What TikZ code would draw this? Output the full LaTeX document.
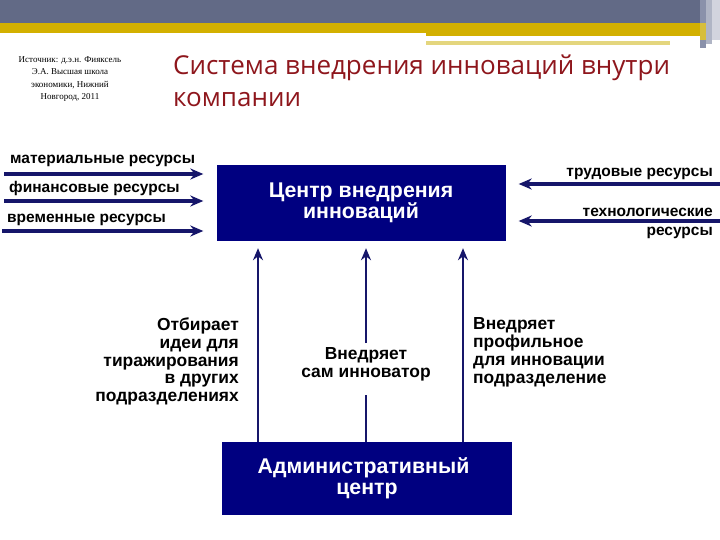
\documentclass[tikz,border=0pt]{standalone}
\usepackage{fontspec}
\setmainfont{Liberation Sans}
\newfontfamily\titlefont{Open Sans}
\newfontfamily\srcfont{Liberation Serif}
\usetikzlibrary{arrows.meta}
\definecolor{bannergray}{HTML}{626A86}
\definecolor{banneryellow}{HTML}{D3B000}
\definecolor{paleyellow}{HTML}{E4D67E}
\definecolor{navybox}{HTML}{000080}
\definecolor{arrowblue}{HTML}{16166A}
\definecolor{titlered}{HTML}{8E161C}
\definecolor{stripeA}{HTML}{8A91AA}
\definecolor{stripeB}{HTML}{B0B5C5}
\definecolor{stripeC}{HTML}{D2D4DE}
\definecolor{stripeD}{HTML}{D6BE3C}
\tikzset{
  box/.style={fill=navybox, draw=none, text=white, font=\bfseries\fontsize{21.3}{21}\selectfont, align=center, inner sep=0pt},
  res/.style={font=\bfseries\fontsize{15.5}{17}\selectfont, inner sep=0pt},
  lbl/.style={font=\bfseries\fontsize{17.4}{17.8}\selectfont, inner sep=0pt},
  flow/.style={draw=arrowblue, line width=3.1pt, -{Stealth[length=13pt,width=11pt]}},
  vflow/.style={draw=arrowblue, line width=2.6pt, -{Stealth[length=12pt,width=10pt]}}
}
\begin{document}
\begin{tikzpicture}[x=1pt,y=-1pt]
\useasboundingbox (0,0) rectangle (720,540);
% banner
\fill[bannergray] (0,0) rectangle (700,23);
\fill[banneryellow] (0,23) rectangle (700,33);
\fill[banneryellow] (426,33) rectangle (700,36);
\fill[paleyellow] (426,41) rectangle (670,45);
\fill[stripeA] (700,0) rectangle (706,48);
\fill[stripeB] (706,0) rectangle (712,44);
\fill[stripeC] (712,0) rectangle (720,40);
\fill[stripeD] (700,23) rectangle (706,40);
% source
\node[font=\srcfont\fontsize{9}{12.6}\selectfont, align=center, inner sep=0pt] (src) at (70,79)
  {Источник: д.э.н. Фияксель\\Э.А. Высшая школа\\экономики, Нижний\\Новгород, 2011};
% title
\node[font=\titlefont\fontsize{26}{32}\selectfont, text=titlered, align=left, anchor=north west, inner sep=0pt] (title) at (173,55)
  {Система внедрения инноваций внутри\\компании};
% boxes
\node[box, minimum width=289pt, minimum height=76pt] (center) at (361,203) {Центр внедрения\\инноваций};
\node[box, minimum width=290pt, minimum height=73pt] (admin) at (367,478.5) {\hspace*{-7pt}Административный\\центр};
% left resources
\node[res, anchor=west] (mat) at (10,161) {материальные ресурсы};
\node[res, anchor=west] (fin) at (9,188) {финансовые ресурсы};
\node[res, anchor=west] (vrem) at (7,220) {временные ресурсы};
\coordinate (m0) at (4,174); \coordinate (m1) at (center.west |- m0);
\coordinate (f0) at (4,201); \coordinate (f1) at (center.west |- f0);
\coordinate (v0) at (2,231); \coordinate (v1) at (center.west |- v0);
\draw[flow, shorten >=13pt] (m0) -- (m1);
\draw[flow, shorten >=13pt] (f0) -- (f1);
\draw[flow, shorten >=13pt] (v0) -- (v1);
% right resources
\node[res, anchor=east] (trud) at (713,174) {трудовые ресурсы};
\node[res, anchor=east] (tech1) at (713,212) {технологические};
\node[res, anchor=east] (tech2) at (713,233) {ресурсы};
\coordinate (t0) at (720,184); \coordinate (t1) at (center.east |- t0);
\coordinate (k0) at (720,221); \coordinate (k1) at (center.east |- k0);
\draw[flow, shorten >=13pt] (t0) -- (t1);
\draw[flow, shorten >=13pt] (k0) -- (k1);
% vertical arrows
\coordinate (a1) at (258,0); \coordinate (a2) at (366,0); \coordinate (a3) at (463,0);
\draw[vflow, shorten >=7pt] (admin.north -| a1) -- (center.south -| a1);
\draw[vflow, shorten >=7pt] (admin.north -| a3) -- (center.south -| a3);
\node[lbl, align=center] (mid) at (366,364) {Внедряет\\сам инноватор};
\coordinate (mbot) at (366,395);
\coordinate (mtop) at (366,343);
\draw[draw=arrowblue, line width=2.6pt] (admin.north -| a2) -- (mbot);
\draw[vflow, shorten >=7pt] (mtop) -- (center.south -| a2);
% side labels
\node[lbl, align=right, anchor=east] (left) at (239,361.5) {Отбирает\\идеи для\\тиражирования\\в других\\подразделениях};
\node[lbl, align=left, anchor=west] (right) at (473,352.5) {Внедряет\\профильное\\для инновации\\подразделение};
\end{tikzpicture}
\end{document}
